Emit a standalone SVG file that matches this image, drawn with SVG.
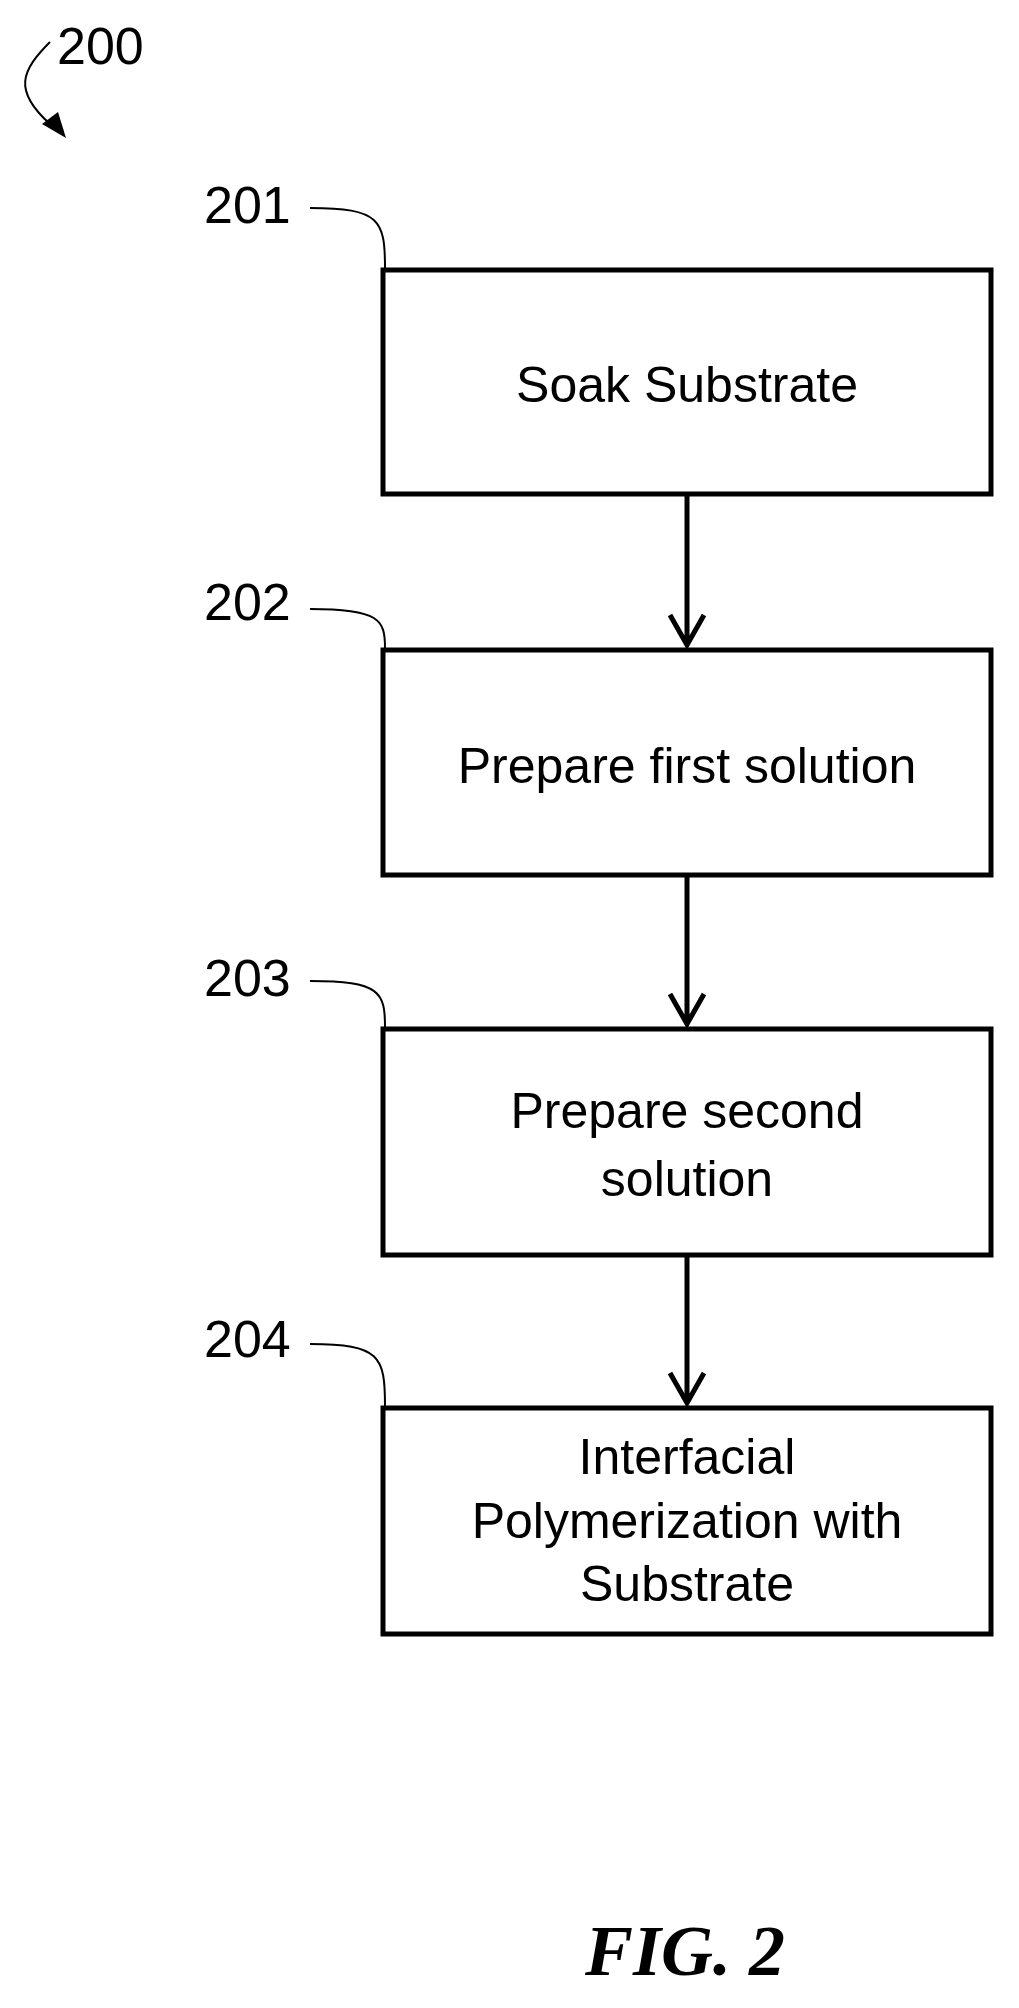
<svg xmlns="http://www.w3.org/2000/svg" width="1019" height="2008" viewBox="0 0 1019 2008">
<style>
.box{fill:#fff;stroke:#000;stroke-width:5}
.t{font-family:"Liberation Sans",Arial,sans-serif;font-size:50px;text-anchor:middle;fill:#000}
.n{font-family:"Liberation Sans",Arial,sans-serif;font-size:52px;fill:#000}
.ld{fill:none;stroke:#000;stroke-width:2}
.ar{stroke:#000;stroke-width:5;fill:none}
</style>
<rect width="1019" height="2008" fill="#fff"/>
<g id="ref200">
<text class="n" x="57" y="64">200</text>
<path class="ld" d="M50,42 C22,70 12,90 50,124" stroke-width="2.5"/>
<path d="M66,138 L42,124 L58,112 Z" fill="#000"/>
</g>
<g id="n201">
<rect class="box" x="383" y="270" width="608" height="224"/>
<text class="t" x="687" y="402">Soak Substrate</text>
<text class="n" x="204" y="223">201</text>
<path class="ld" d="M310,208 C380,208 385,220 385,268"/>
</g>
<g id="n202">
<rect class="box" x="383" y="650" width="608" height="225"/>
<text class="t" x="687" y="783">Prepare first solution</text>
<text class="n" x="204" y="620">202</text>
<path class="ld" d="M310,609 C380,609 385,620 385,648"/>
</g>
<g id="n203">
<rect class="box" x="383" y="1029" width="608" height="226"/>
<text class="t" x="687" y="1128">Prepare second</text>
<text class="t" x="687" y="1196">solution</text>
<text class="n" x="204" y="996">203</text>
<path class="ld" d="M310,981 C380,981 385,992 385,1027"/>
</g>
<g id="n204">
<rect class="box" x="383" y="1408" width="608" height="226"/>
<text class="t" x="687" y="1474">Interfacial</text>
<text class="t" x="687" y="1538">Polymerization with</text>
<text class="t" x="687" y="1601">Substrate</text>
<text class="n" x="204" y="1357">204</text>
<path class="ld" d="M310,1344 C380,1344 385,1356 385,1406"/>
</g>
<g id="connectors">
<path class="ar" d="M687,496 V645 M670,615 L687,645 L704,615"/>
<path class="ar" d="M687,877 V1024 M670,994 L687,1024 L704,994"/>
<path class="ar" d="M687,1257 V1403 M670,1373 L687,1403 L704,1373"/>
</g>
<text x="685" y="1975" font-family="'Liberation Serif','Times New Roman',serif" font-size="72" font-weight="bold" font-style="italic" text-anchor="middle">FIG. 2</text>
</svg>
